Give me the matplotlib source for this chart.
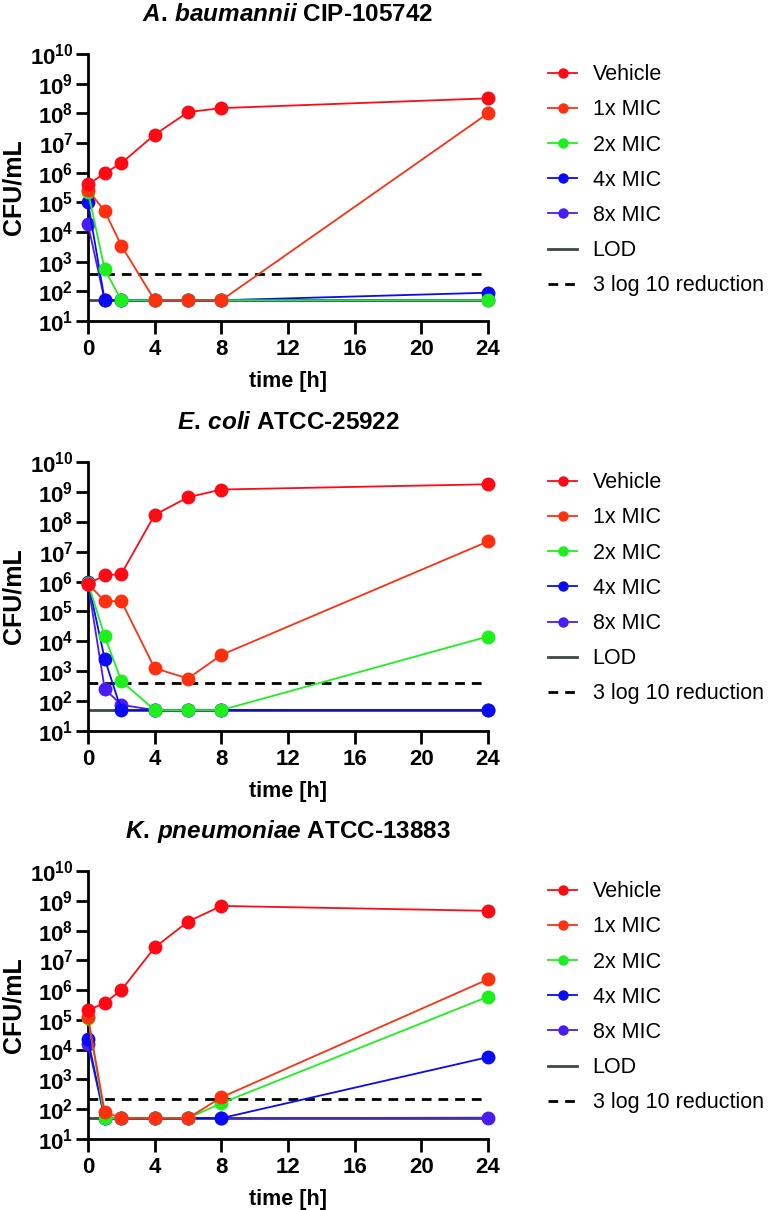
import matplotlib
matplotlib.use("Agg")
import matplotlib.pyplot as plt
import numpy as np

plt.rcParams['font.family'] = ['Liberation Sans', 'DejaVu Sans']
plt.rcParams['mathtext.fontset'] = 'custom'
plt.rcParams['mathtext.rm'] = 'Liberation Sans:bold'
plt.rcParams['mathtext.bf'] = 'Liberation Sans:bold'
plt.rcParams['mathtext.it'] = 'Liberation Sans:bold:italic'

time_h = [0, 1, 2, 4, 6, 8, 24]
series_names = ["Vehicle", "1x MIC", "2x MIC", "4x MIC", "8x MIC"]
series_colors = ["#FF0A14", "#FF3010", "#1EF01E", "#0A0AF5", "#4A1CF5"]
lod_color = "#3C4848"

# A. baumannii CIP-105742
ab_vehicle = [4.0e5, 9.5e5, 2.1e6, 1.9e7, 1.1e8, 1.5e8, 3.2e8]
ab_1x = [2.6e5, 5.1e4, 3.5e3, 50, 50, 50, 1.0e8]
ab_2x = [2.3e5, 550, 50, 50, 50, 50, 50]
ab_4x = [1.0e5, 50, 50, 50, 50, 50, 90]
ab_8x = [1.8e4, 50, 50, 50, 50, 50, 50]
ab_lod = 50
ab_3log = 390

# E. coli ATCC-25922
ec_vehicle = [8.5e5, 1.6e6, 1.8e6, 1.7e8, 6.6e8, 1.2e9, 1.8e9]
ec_1x = [8.5e5, 2.2e5, 2.2e5, 1.26e3, 570, 3.5e3, 2.2e7]
ec_2x = [9.0e5, 1.5e4, 470, 50, 50, 50, 1.45e4]
ec_4x = [1.0e6, 2.6e3, 50, 50, 50, 50, 50]
ec_8x = [8.5e5, 257, 75, 50, 50, 50, 50]
ec_lod = 50
ec_3log = 400

# K. pneumoniae ATCC-13883
kp_vehicle = [2.1e5, 3.7e5, 1.0e6, 2.7e7, 2.0e8, 6.7e8, 4.6e8]
kp_1x = [1.25e5, 81, 50, 50, 50, 250, 2.3e6]
kp_2x = [1.2e5, 50, 50, 50, 50, 160, 6.0e5]
kp_4x = [2.2e4, 50, 50, 50, 50, 50, 5.6e3]
kp_8x = [1.5e4, 50, 50, 50, 50, 50, 52]
kp_lod = 50
kp_3log = 220

panels = [
    ("A.", "baumannii", "CIP-105742", [ab_vehicle, ab_1x, ab_2x, ab_4x, ab_8x], ab_lod, ab_3log),
    ("E.", "coli", "ATCC-25922", [ec_vehicle, ec_1x, ec_2x, ec_4x, ec_8x], ec_lod, ec_3log),
    ("K.", "pneumoniae", "ATCC-13883", [kp_vehicle, kp_1x, kp_2x, kp_4x, kp_8x], kp_lod, kp_3log),
]

W, H = 773, 1210
fig = plt.figure(figsize=(W / 100, H / 100), dpi=100)

# axes pixel boxes: (left, top, right, bottom)
boxes = [(88, 54, 488, 321), (88, 462, 488, 731), (88, 871, 488, 1139)]

yticks = [10.0 ** k for k in range(1, 11)]
ylabels = [r"$10^{%d}$" % k for k in range(1, 11)]
xticks = [0, 4, 8, 12, 16, 20, 24]

for (genus, species, strain, data, lod, red3), (l, t, r, b) in zip(panels, boxes):
    ax = fig.add_axes([l / W, 1 - b / H, (r - l) / W, (b - t) / H])
    ax.set_yscale('log')
    ax.set_xlim(0, 24)
    ax.set_ylim(10, 1e10)

    handles = []
    for i in reversed(range(len(series_names))):
        h, = ax.plot(time_h, data[i], color=series_colors[i], lw=1.3, marker='o',
                     markersize=10, markeredgewidth=0, clip_on=False, zorder=3 + (5 - i),
                     label=series_names[i])
        handles.append(h)
    handles = handles[::-1]
    lod_line, = ax.plot([0, 24], [lod, lod], color=lod_color, lw=2.0, zorder=2, label="LOD")
    red_line, = ax.plot([0, 24], [red3, red3], color='black', lw=2.0, ls=(0, (3.5, 2.5)),
                        zorder=2, label="3 log 10 reduction")

    ax.set_yticks(yticks)
    ax.set_yticklabels(ylabels)
    ax.yaxis.set_minor_locator(matplotlib.ticker.NullLocator())
    ax.set_xticks(xticks)
    ax.set_xticklabels([str(x) for x in xticks])
    for lab in ax.get_xticklabels():
        lab.set_fontweight('bold')
    ax.tick_params(axis='both', which='major', length=9, width=2, color='black')
    ax.tick_params(axis='y', pad=1.5, labelsize=16)
    ax.tick_params(axis='x', pad=4, labelsize=16)
    for s in ['top', 'right']:
        ax.spines[s].set_visible(False)
    for s in ['left', 'bottom']:
        ax.spines[s].set_linewidth(2)

    ax.set_ylabel("CFU/mL", fontsize=18, fontweight='bold', labelpad=3)
    ax.set_xlabel("time [h]", fontsize=15.5, fontweight='bold', labelpad=8)
    ax.set_title(r"$\it{%s}$$\,$$\it{%s}$ %s" % (genus, species, strain), fontsize=17.5,
                 fontweight='bold', pad=24)

    ax.legend(handles + [lod_line, red_line],
              series_names + ["LOD", "3 log 10 reduction"],
              loc='upper left', bbox_to_anchor=(1.15, 0.962), frameon=False,
              fontsize=15.5, handlelength=1.35, handletextpad=0.72, labelspacing=0.66,
              borderpad=0, borderaxespad=0, markerscale=0.75)

fig.savefig("out.png", dpi=100)
